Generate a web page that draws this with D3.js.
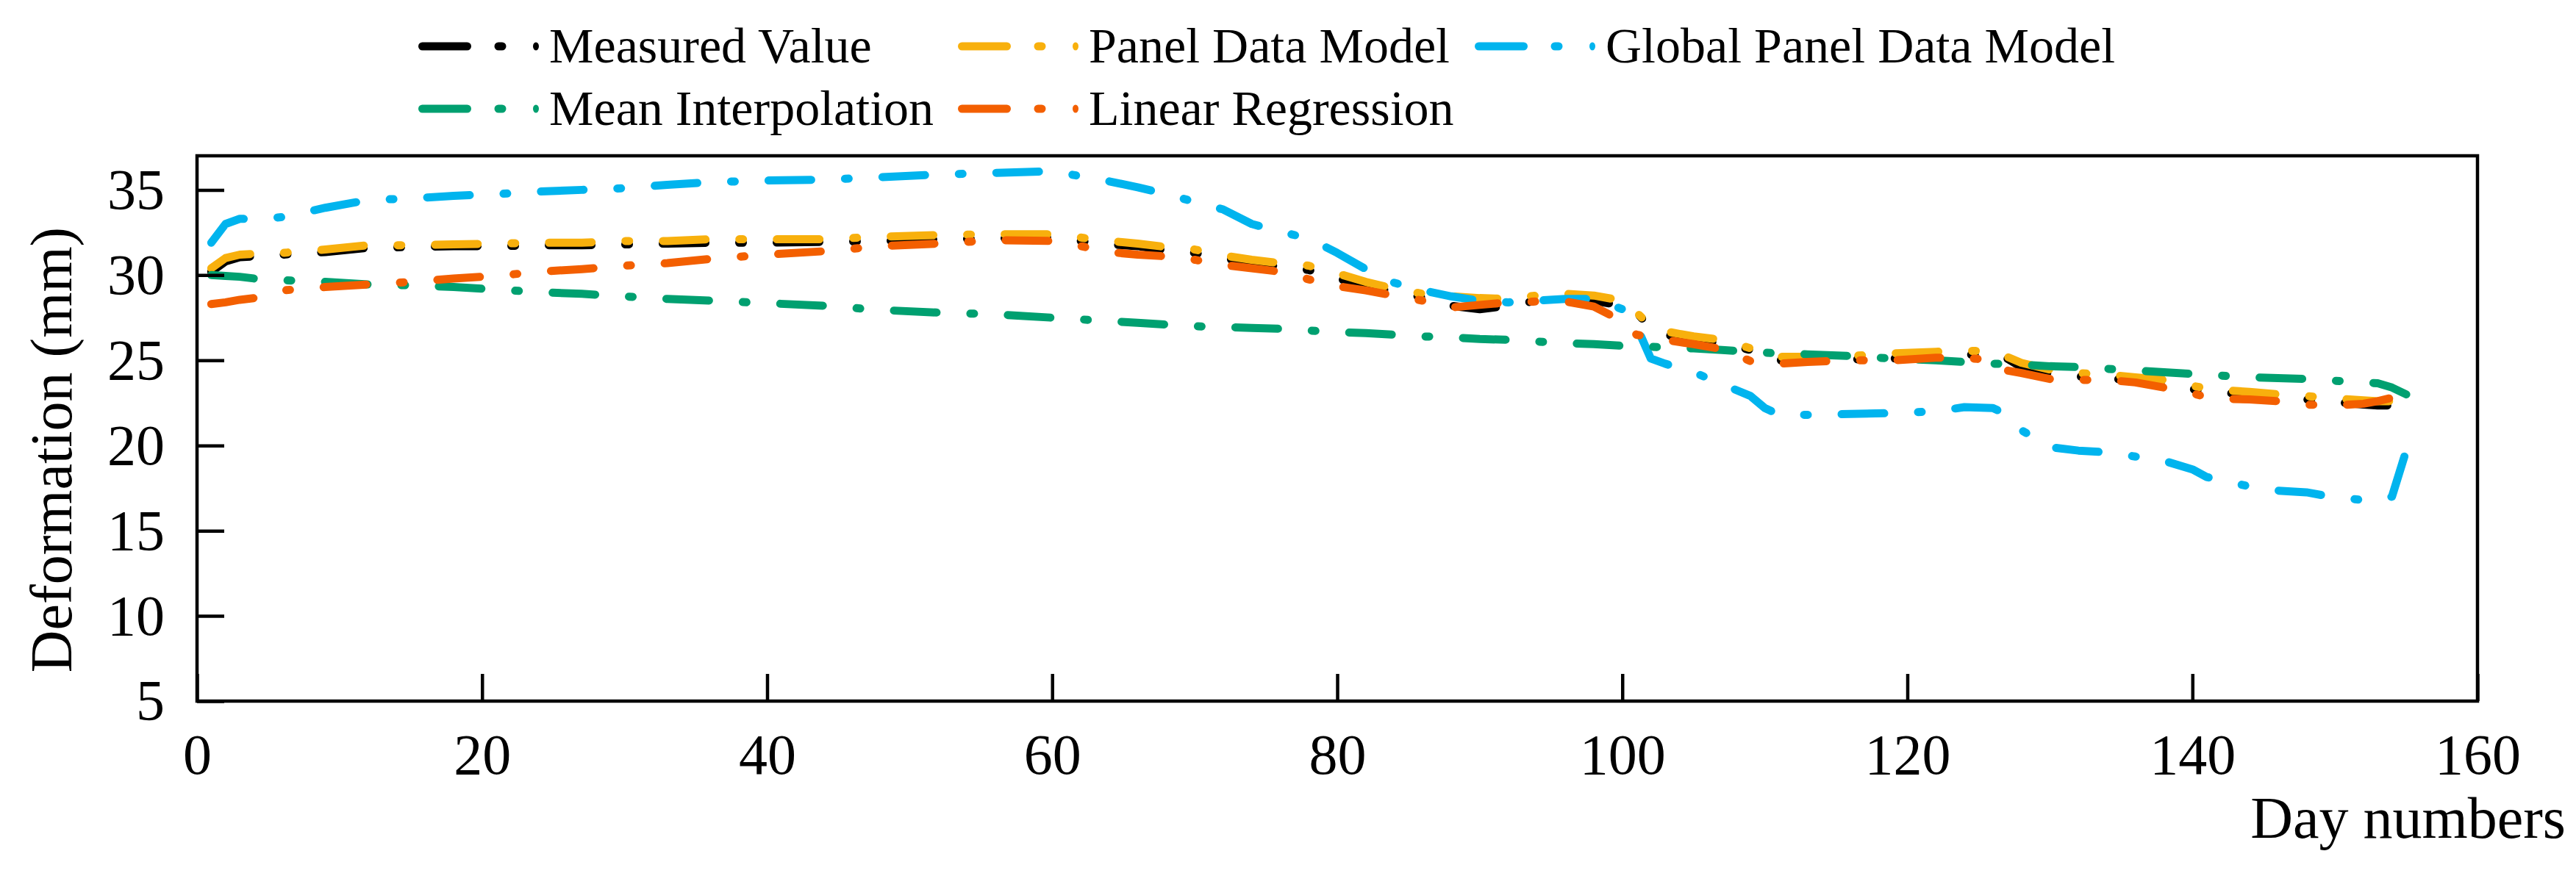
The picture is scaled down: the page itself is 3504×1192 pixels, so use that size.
<!DOCTYPE html>
<html>
<head>
<meta charset="utf-8">
<script src="https://d3js.org/d3.v7.min.js"></script>
<style>
  body { margin: 0; background: #fff; }
  svg text { font-family: "Liberation Serif", "Times New Roman", serif; fill: #000; }
</style>
</head>
<body>
<div id="chart"></div>
<script>
var days = [1,2,3,4,6,9,12,15,18,21,24,27,30,33,36,40,44,48,52,56,60,62,64,66,68,70,72,74,76,78,80,82,84,86,88,90,92,94,96,98,100,101,102,103,105,107,109,110,111,113,116,119,122,124,126,127,128,130,132,134,136,138,140,141,142,144,146,148,150,152,153,154,155];

var measured = [30.2,30.8,31.05,31.1,31.2,31.35,31.6,31.65,31.7,31.7,31.75,31.75,31.8,31.85,31.9,31.9,31.95,32.0,32.1,32.15,32.2,32.0,31.8,31.7,31.45,31.3,31.0,30.7,30.5,30.3,29.8,29.4,29.0,28.7,28.2,28.0,28.2,28.5,28.6,28.5,28.2,27.8,26.9,26.5,26.2,26.0,25.6,25.2,25.0,25.0,25.05,25.1,25.2,25.3,25.4,25.1,24.6,24.2,24.05,23.95,23.8,23.6,23.3,23.2,23.1,23.0,22.85,22.7,22.55,22.4,22.35,22.35,22.4];

var panel = [30.4,31.0,31.2,31.25,31.3,31.5,31.75,31.75,31.8,31.85,31.9,31.9,32.0,32.0,32.1,32.1,32.1,32.25,32.35,32.4,32.4,32.2,32.0,31.85,31.65,31.5,31.15,30.9,30.7,30.55,30.1,29.6,29.2,28.9,28.75,28.65,28.6,28.8,28.9,28.8,28.5,27.8,27.0,26.7,26.4,26.2,25.7,25.4,25.2,25.2,25.25,25.4,25.5,25.55,25.55,25.2,24.85,24.45,24.25,24.15,24.0,23.85,23.5,23.35,23.25,23.15,23.0,22.9,22.75,22.65,22.6,22.6,22.6];

var globalPanel = [31.9,33.0,33.3,33.3,33.4,33.95,34.4,34.5,34.65,34.75,34.9,35.0,35.1,35.3,35.45,35.55,35.6,35.75,35.9,36.0,36.1,35.8,35.5,35.15,34.75,34.3,33.85,33.0,32.55,32.15,31.3,30.35,29.55,29.1,28.75,28.5,28.4,28.5,28.6,28.6,28.0,27.0,25.1,24.8,24.3,23.6,22.9,22.2,21.8,21.8,21.85,21.9,22.0,22.25,22.2,21.8,20.9,19.9,19.7,19.6,19.35,19.1,18.6,18.15,17.95,17.6,17.35,17.25,16.95,16.8,16.75,17.0,19.7];

var meanInterp = [30.0,29.95,29.9,29.8,29.7,29.6,29.45,29.4,29.3,29.15,29.0,28.9,28.75,28.6,28.5,28.35,28.2,27.95,27.8,27.7,27.5,27.4,27.3,27.2,27.1,27.0,26.95,26.9,26.85,26.75,26.65,26.6,26.5,26.4,26.35,26.25,26.2,26.1,26.0,25.95,25.85,25.83,25.8,25.75,25.7,25.6,25.5,25.45,25.4,25.35,25.25,25.1,25.0,24.9,24.8,24.78,24.75,24.65,24.6,24.5,24.4,24.3,24.2,24.15,24.1,24.0,23.95,23.9,23.8,23.7,23.65,23.4,23.0];

var linearReg = [28.3,28.4,28.55,28.65,29.1,29.3,29.45,29.6,29.8,29.95,30.2,30.35,30.55,30.7,30.95,31.2,31.4,31.7,31.85,32.05,32.0,31.7,31.35,31.2,31.1,30.9,30.6,30.4,30.2,29.75,29.35,29.1,28.8,28.5,28.1,28.25,28.4,28.45,28.45,28.15,27.3,26.5,26.35,26.2,25.95,25.65,24.95,24.85,24.8,24.9,25.0,25.0,25.15,25.15,25.0,24.4,24.25,23.9,23.85,23.85,23.7,23.4,23.05,22.85,22.75,22.7,22.6,22.4,22.35,22.45,22.6,22.8,22.8];

var seriesNames = ["Measured Value", "Panel Data Model", "Global Panel Data Model", "Mean Interpolation", "Linear Regression"];
var seriesValues = [measured, panel, globalPanel, meanInterp, linearReg];
var colors = ["#000000", "#F8B00D", "#00B4EE", "#00A070", "#F35F00"];

var xTicks = [0,20,40,60,80,100,120,140,160];
var yTicks = [5,10,15,20,25,30,35];

drawChart();

function drawChart() {
  var W = 3504, H = 1192;
  var pL = 268, pR = 3370, pT = 212, pB = 954;

  var svg = d3.select("#chart").append("svg")
    .attr("width", W).attr("height", H);

  var x = d3.scaleLinear().domain([0,160]).range([pL, pR]);
  var y = d3.scaleLinear().domain([5,37]).range([pB, pT]);

  // clip so nothing crosses the frame
  svg.append("clipPath").attr("id", "plotclip")
    .append("rect").attr("x", pL).attr("y", pT)
    .attr("width", pR-pL).attr("height", pB-pT);

  var line = d3.line()
    .x(function(d){ return x(d[0]) })
    .y(function(d){ return y(d[1]) });

  var lines = svg.append("g").attr("clip-path", "url(#plotclip)");
  seriesValues.forEach(function(vals, i){
    var pts = days.map(function(d, j){ return [d, vals[j]] });
    lines.append("path")
      .datum(pts)
      .attr("d", line)
      .attr("fill", "none")
      .attr("stroke", colors[i])
      .attr("stroke-width", 11)
      .attr("stroke-linecap", "round")
      .attr("stroke-linejoin", "round")
      .attr("stroke-dasharray", "58,46,5,46");
  });

  // axes, ticks pointing inside
  var xAxis = svg.append("g")
    .attr("transform", "translate(0," + pB + ")")
    .call(d3.axisBottom(x).tickValues(xTicks).tickSize(-37).tickPadding(44));
  var yAxis = svg.append("g")
    .attr("transform", "translate(" + pL + ",0)")
    .call(d3.axisLeft(y).tickValues(yTicks).tickSize(-37).tickPadding(44));

  [xAxis, yAxis].forEach(function(a){
    a.select(".domain").remove();
    a.selectAll(".tick line").attr("stroke", "#000").attr("stroke-width", 4.5);
    a.selectAll(".tick text")
      .style("font-family", "'Liberation Serif', 'Times New Roman', serif")
      .style("font-size", "78px").attr("fill", "#000");
  });

  // frame
  svg.append("rect")
    .attr("x", pL).attr("y", pT)
    .attr("width", pR-pL).attr("height", pB-pT)
    .attr("fill", "none").attr("stroke", "#000").attr("stroke-width", 4.5);

  // axis titles
  svg.append("text")
    .attr("x", 3490).attr("y", 1140)
    .attr("text-anchor", "end")
    .style("font-size", "80px")
    .text("Day numbers");

  svg.append("text")
    .attr("transform", "translate(97,612) rotate(-90)")
    .attr("text-anchor", "middle")
    .style("font-size", "80px")
    .text("Deformation (mm)");

  // legend: 3 columns, 2 rows
  var legendPos = [[569,63],[1303,63],[2006,63],[569,148],[1303,148]];
  var legend = svg.append("g");
  seriesNames.forEach(function(name, i){
    var px = legendPos[i][0], py = legendPos[i][1];
    var g = legend.append("g");
    g.append("line")
      .attr("x1", px+5.5).attr("x2", px+66.5).attr("y1", py).attr("y2", py)
      .attr("stroke", colors[i]).attr("stroke-width", 11).attr("stroke-linecap", "round");
    g.append("line")
      .attr("x1", px+109).attr("x2", px+114).attr("y1", py).attr("y2", py)
      .attr("stroke", colors[i]).attr("stroke-width", 11).attr("stroke-linecap", "round");
    g.append("ellipse")
      .attr("cx", px+160).attr("cy", py).attr("rx", 4).attr("ry", 5.5)
      .attr("fill", colors[i]);
    g.append("text")
      .attr("x", px+178).attr("y", py+22)
      .style("font-size", "68px")
      .text(name);
  });
}
</script>
</body>
</html>
